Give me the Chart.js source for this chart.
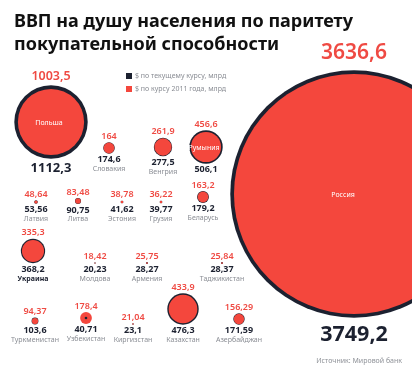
<!DOCTYPE html>
<html>
<head>
<meta charset="utf-8">
<script src="https://cdn.jsdelivr.net/npm/chart.js@4"></script>
<style>
  html, body { margin: 0; padding: 0; background: #fff; }
  #wrap { position: relative; width: 412px; height: 372px; overflow: hidden; font-family: 'Noto Sans', sans-serif; }
  #chart { position: absolute; left: 0; top: 0; }
  .title { position: absolute; left: 14px; top: 9px; font-size: 18px; line-height: 23px; font-weight: 700; color: #111; white-space: nowrap; }
  .legend { position: absolute; left: 126px; top: 69px; font-size: 7px; line-height: 13px; color: #8a8d94; white-space: nowrap; }
  .legend .sq { display: inline-block; width: 6px; height: 6px; margin-right: 3px; vertical-align: -0.5px; }
  .source { position: absolute; right: 10px; top: 356px; font-size: 7px; color: #8f9298; }
</style>
</head>
<body>
<div id="wrap">
  <canvas id="chart" width="412" height="372"></canvas>
  <div class="title">ВВП на душу населения по паритету<br>покупательной способности</div>
  <div class="legend">
    <div><span class="sq" style="background:#1c2130"></span>$ по текущему курсу, млрд</div>
    <div><span class="sq" style="background:#f4473d"></span>$ по курсу 2011 года, млрд</div>
  </div>
  <div class="source">Источник: Мировой банк</div>
</div>
<script>
// values, bn $
const countries = ['Польша', 'Словакия', 'Венгрия', 'Румыния',
  'Латвия', 'Литва', 'Эстония', 'Грузия', 'Беларусь',
  'Украина', 'Молдова', 'Армения', 'Таджикистан',
  'Туркменистан', 'Узбекистан', 'Киргизстан', 'Казахстан', 'Азербайджан',
  'Россия'];
const valuePPP = [1003.5, 164, 261.9, 456.6,
  48.64, 83.48, 38.78, 36.22, 163.2,
  335.3, 18.42, 25.75, 25.84,
  94.37, 178.4, 21.04, 433.9, 156.29,
  3636.6];
const valueCurrent = [1112.3, 174.6, 277.5, 506.1,
  53.56, 90.75, 41.62, 39.77, 179.2,
  368.2, 20.23, 28.27, 28.37,
  103.6, 40.71, 23.1, 476.3, 171.59,
  3749.2];

// layout of the bubbles (in canvas units)
const posX = [51, 109, 163, 206, 36, 78, 122, 161, 203, 33, 95, 147, 222, 35, 86, 133, 183, 239, 354];
const posY = [122, 148, 147, 147, 202, 201, 202, 202, 197, 251, 263, 263, 263, 321, 318, 324, 309, 319, 194];
const namesInside = ['Польша', 'Румыния', 'Россия'];

const K = 0.033; // radius px per bn $
const RED = '#f4473d';
const DARK = '#1c2130';

const pts = (vals) => vals.map((v, i) => ({ x: posX[i], y: posY[i], r: v * K }));
const curOnTop = valueCurrent.map((v, i) => v < valuePPP[i] ? { x: posX[i], y: posY[i], r: v * K } : null).filter(p => p);

const fmt = v => String(v).replace('.', ',');

const labelPlugin = {
  id: 'bubbleLabels',
  afterDatasetsDraw(chart) {
    const ctx = chart.ctx;
    const xs = chart.scales.x, ys = chart.scales.y;
    ctx.save();
    ctx.textAlign = 'center';
    ctx.textBaseline = 'middle';
    countries.forEach((name, i) => {
      const cx = xs.getPixelForValue(posX[i]);
      const cy = ys.getPixelForValue(posY[i]);
      const rMax = Math.max(valuePPP[i], valueCurrent[i]) * K;
      const fs = rMax > 100 ? 21 : rMax > 30 ? 12.5 : 9;
      const gap = fs / 2 + 1.5 + (fs - 9) * 0.4;

      ctx.fillStyle = '#ef4a43';
      ctx.font = '600 ' + fs + 'px "Noto Sans"';
      ctx.fillText(fmt(valuePPP[i]), cx, cy - rMax - gap);

      const fb = fs > 10 ? fs + 0.5 : fs;
      ctx.fillStyle = DARK;
      ctx.font = '700 ' + fb + 'px "Noto Sans"';
      const by = cy + rMax + gap;
      ctx.fillText(fmt(valueCurrent[i]), cx, by);

      if (namesInside.includes(name)) {
        ctx.fillStyle = '#fff';
        ctx.font = '400 7px "Noto Sans"';
        ctx.fillText(name, name === 'Россия' ? cx - 11 : cx - 2, cy + 1);
      } else {
        const hl = name === 'Украина';
        ctx.fillStyle = hl ? DARK : '#8a8d94';
        ctx.font = (hl ? '700 ' : '400 ') + '7px "Noto Sans"';
        ctx.fillText(name, cx, by + 9.5);
      }
    });
    ctx.restore();
  }
};

new Chart(document.getElementById('chart'), {
  type: 'bubble',
  data: {
    datasets: [
      { label: '$ по текущему курсу, млрд', data: pts(valueCurrent), backgroundColor: DARK, borderWidth: 0, order: 3 },
      { label: '$ по курсу 2011 года, млрд', data: pts(valuePPP), backgroundColor: RED, borderWidth: 0, order: 2 },
      { label: 'top', data: curOnTop, backgroundColor: DARK, borderWidth: 0, order: 1 }
    ]
  },
  options: {
    responsive: false,
    animation: false,
    devicePixelRatio: 1,
    layout: { padding: 0, autoPadding: false },
    scales: {
      x: { type: 'linear', min: 0, max: 412, display: false },
      y: { type: 'linear', min: 0, max: 372, reverse: true, display: false }
    },
    plugins: {
      legend: { display: false },
      tooltip: { enabled: false }
    }
  },
  plugins: [labelPlugin]
});
</script>
</body>
</html>
